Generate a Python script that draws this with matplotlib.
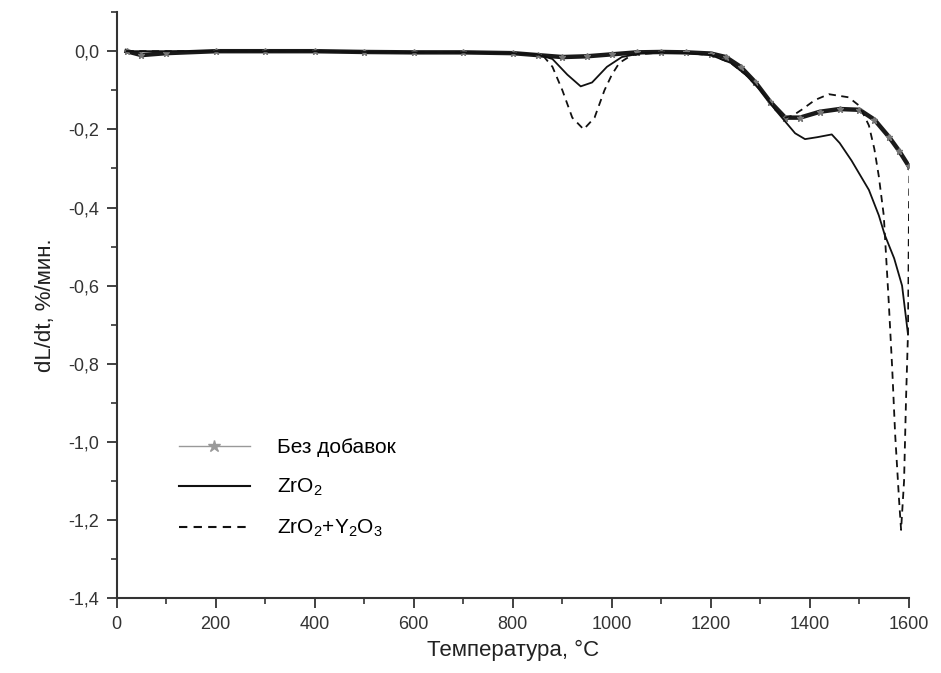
import matplotlib
matplotlib.use('Agg')
import matplotlib.pyplot as plt
from matplotlib.ticker import MultipleLocator, FuncFormatter
from matplotlib.lines import Line2D

plt.rcParams['font.family'] = ['Liberation Sans', 'DejaVu Sans']

# Без добавок (no additives)
temp_base = [20, 50, 100, 200, 300, 400, 500, 600, 700, 800, 850, 900, 950, 1000,
             1050, 1100, 1150, 1200, 1230, 1260, 1290, 1320, 1350, 1380, 1420,
             1460, 1500, 1530, 1560, 1580, 1600]
dl_base = [0.0, -0.01, -0.005, 0.0, 0.0, 0.0, -0.002, -0.003, -0.003, -0.005, -0.01,
           -0.015, -0.013, -0.008, -0.003, -0.002, -0.003, -0.006, -0.015, -0.04,
           -0.08, -0.13, -0.17, -0.17, -0.155, -0.148, -0.15, -0.175, -0.22, -0.255,
           -0.295]

# ZrO2
temp_zr = [20, 100, 200, 300, 400, 500, 600, 700, 800, 850, 880, 910, 937, 960, 990,
           1020, 1060, 1100, 1150, 1200, 1240, 1270, 1300, 1330, 1350, 1370, 1390,
           1415, 1444, 1460, 1484, 1519, 1539, 1551, 1570, 1586, 1598]
dl_zr = [0.0, 0.0, 0.0, 0.0, 0.0, -0.002, -0.003, -0.003, -0.005, -0.008, -0.02,
         -0.06, -0.09, -0.08, -0.04, -0.015, -0.005, -0.003, -0.005, -0.01, -0.03,
         -0.06, -0.1, -0.15, -0.18, -0.21, -0.225, -0.22, -0.213, -0.235, -0.28,
         -0.355, -0.42, -0.47, -0.53, -0.6, -0.725]

# ZrO2 + Y2O3
temp_zry = [20, 100, 200, 300, 400, 500, 600, 700, 800, 860, 880, 900, 920, 943, 965,
            985, 1000, 1015, 1040, 1100, 1150, 1200, 1240, 1270, 1300, 1330, 1350,
            1365, 1383, 1410, 1438, 1478, 1500, 1519, 1530, 1539, 1549, 1559, 1566,
            1572, 1580, 1584, 1590, 1594, 1598, 1600, 1601]
dl_zry = [0.0, 0.0, 0.0, 0.0, 0.0, -0.002, -0.003, -0.003, -0.005, -0.01, -0.04, -0.1,
          -0.17, -0.2, -0.17, -0.1, -0.06, -0.03, -0.01, -0.003, -0.005, -0.01, -0.03,
          -0.06, -0.1, -0.15, -0.17, -0.165, -0.15, -0.125, -0.11, -0.118, -0.14,
          -0.19, -0.25, -0.32, -0.42, -0.64, -0.81, -0.98, -1.15, -1.225, -1.1,
          -0.89, -0.72, -0.4, -0.3]

fig = plt.figure(figsize=(9.41, 6.73), dpi=100)
ax = fig.add_axes([0.124, 0.111, 0.842, 0.871])

ax.plot(temp_base, dl_base, '-*', color='#1a1a1a', lw=3.2, ms=5,
        mfc='#777777', mec='#777777')
ax.plot(temp_zr, dl_zr, '-', color='#111111', lw=1.3)
ax.plot(temp_zry, dl_zry, '--', color='#111111', lw=1.3, dashes=(4, 3))

ax.set_xlim(0, 1600)
ax.set_ylim(-1.4, 0.1)
ax.xaxis.set_major_locator(MultipleLocator(200))
ax.xaxis.set_minor_locator(MultipleLocator(100))
ax.yaxis.set_major_locator(MultipleLocator(0.2))
ax.yaxis.set_minor_locator(MultipleLocator(0.1))
ax.yaxis.set_major_formatter(FuncFormatter(lambda v, p: ('%.1f' % v).replace('.', ',').replace('-0,0', '0,0')))

for s in ['top', 'right']:
    ax.spines[s].set_visible(False)
for s in ['left', 'bottom']:
    ax.spines[s].set_linewidth(1.5)
    ax.spines[s].set_color('#333333')
ax.tick_params(which='major', direction='out', length=7.5, width=1.3, labelsize=13,
               colors='#333333', pad=5)
ax.tick_params(which='minor', direction='out', length=4, width=1.2, colors='#333333')

ax.set_xlabel('Температура, °C', fontsize=16, labelpad=5, color='#222222')
ax.set_ylabel('dL/dt, %/мин.', fontsize=16, labelpad=9, color='#222222')

handles = [
    Line2D([], [], color='#999999', lw=1, marker='*', ms=9, mfc='#999999', mec='#999999'),
    Line2D([], [], color='#111111', lw=1.5),
    Line2D([], [], color='#111111', lw=1.5, ls='--', dashes=(4, 3)),
]
labels = ['Без добавок', r'$\mathregular{ZrO_2}$', r'$\mathregular{ZrO_2}$+$\mathregular{Y_2O_3}$']
ax.legend(handles, labels, loc='upper left', bbox_to_anchor=(0.055, 0.305), frameon=False,
          fontsize=15, handlelength=3.4, handletextpad=1.3, labelspacing=0.95)

fig.savefig('out.png', dpi=100)
